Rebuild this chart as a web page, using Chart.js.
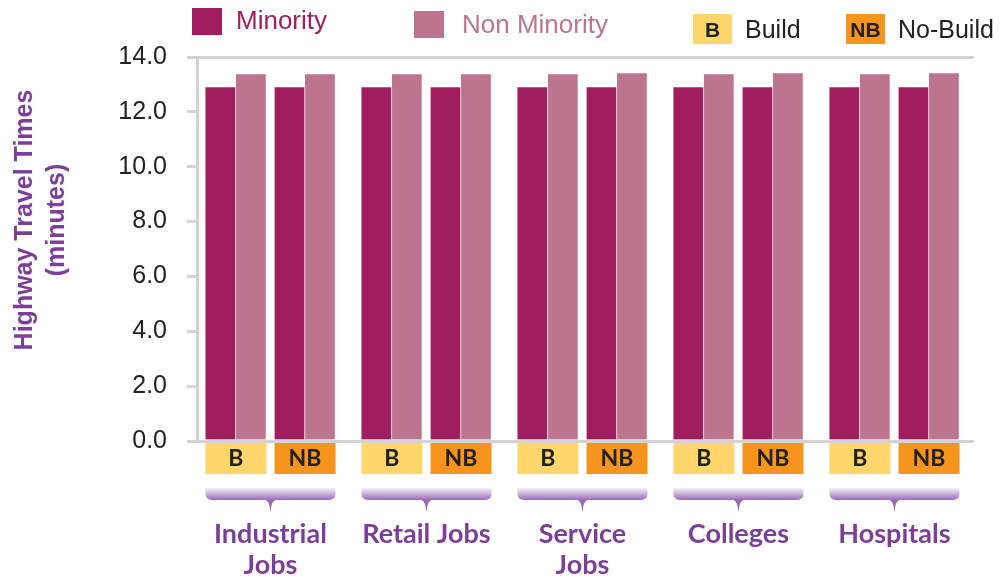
<!DOCTYPE html>
<html>
<head>
<meta charset="utf-8">
<script src="https://cdn.jsdelivr.net/npm/chart.js@4.4.1/dist/chart.umd.min.js"></script>
<style>
  html, body { margin: 0; padding: 0; background: #fff; }
</style>
</head>
<body>
<canvas id="grafico" width="1000" height="580"></canvas>
<script>
// Datos del grafico
const categorias = [['Industrial', 'Jobs'], 'Retail Jobs', ['Service', 'Jobs'], 'Colleges', 'Hospitals'];
const escenarios = ['B', 'NB'];
const nombresEscenario = ['Build', 'No-Build'];
const series = ['Minority', 'Non Minority'];
// orden: por categoria, B y luego NB
const tiemposMinority = [12.9, 12.9, 12.9, 12.9, 12.9, 12.9, 12.9, 12.9, 12.9, 12.9];
const tiemposNonMinority = [13.37, 13.37, 13.37, 13.37, 13.37, 13.41, 13.37, 13.41, 13.37, 13.41];
const ticksY = [0, 2, 4, 6, 8, 10, 12, 14];
const tituloY = ['Highway Travel Times', '(minutes)'];

const colorMinority = '#a01e5f';
const colorNonMinority = '#bd758f';
const coloresEscenario = ['#fed66b', '#f7941e'];
const morado = '#7b3f98';
const anchoBarra = 30.5;
const separacion = 0.2215; // distancia del grupo B / NB al centro de la categoria

function posicion(ci, si) {
  return ci + (si === 0 ? -separacion : separacion);
}

function puntos(valores) {
  const datos = [];
  categorias.forEach(function (cat, ci) {
    escenarios.forEach(function (esc, si) {
      datos.push({ x: posicion(ci, si), y: valores[ci * escenarios.length + si] });
    });
  });
  return datos;
}

const extras = {
  id: 'extras',
  afterDraw(chart) {
    const ctx = chart.ctx;
    const x = chart.scales.x;
    ctx.save();

    // Leyenda superior
    ctx.textAlign = 'left';
    ctx.textBaseline = 'alphabetic';
    ctx.font = '26px "Liberation Sans", Arial';
    ctx.fillStyle = colorMinority;
    ctx.fillRect(192, 8, 30, 27);
    ctx.fillText(series[0], 236, 29);
    ctx.fillStyle = colorNonMinority;
    ctx.fillRect(414, 11, 30, 27);
    ctx.fillText(series[1], 462, 33);

    const leyendaX = [693, 846];
    escenarios.forEach(function (esc, si) {
      const lx = leyendaX[si];
      ctx.fillStyle = coloresEscenario[si];
      ctx.fillRect(lx, 14, 39, 30);
      ctx.fillStyle = '#222';
      ctx.font = 'bold 21px "Liberation Sans", Arial';
      ctx.textAlign = 'center';
      ctx.fillText(esc, lx + 19.5, 37);
      ctx.font = '25px "Liberation Sans", Arial';
      ctx.textAlign = 'left';
      ctx.fillText(nombresEscenario[si], lx + 52, 38);
    });

    // Titulo del eje Y
    ctx.save();
    ctx.translate(31.5, 220);
    ctx.rotate(-Math.PI / 2);
    ctx.fillStyle = morado;
    ctx.font = 'bold 25px "Liberation Sans", Arial';
    ctx.textAlign = 'center';
    tituloY.forEach(function (linea, i) {
      ctx.fillText(linea, 0, i * 32);
    });
    ctx.restore();

    // Cajas B / NB, llaves y etiquetas de categoria
    categorias.forEach(function (cat, ci) {
      escenarios.forEach(function (esc, si) {
        const px = x.getPixelForValue(posicion(ci, si));
        ctx.fillStyle = coloresEscenario[si];
        ctx.fillRect(px - anchoBarra, 443, anchoBarra * 2, 31);
        ctx.fillStyle = '#222';
        ctx.font = 'bold 23px Lato, "Open Sans", sans-serif';
        ctx.textAlign = 'center';
        ctx.textBaseline = 'middle';
        ctx.fillText(esc, px, 459);
      });

      const x0 = x.getPixelForValue(posicion(ci, 0)) - anchoBarra;
      const x1 = x.getPixelForValue(posicion(ci, 1)) + anchoBarra;
      const cx = (x0 + x1) / 2;
      const grad = ctx.createLinearGradient(0, 488, 0, 512);
      grad.addColorStop(0, '#f4eff8');
      grad.addColorStop(0.5, '#9c6cb9');
      grad.addColorStop(1, '#8a55a8');
      ctx.fillStyle = grad;
      ctx.beginPath();
      ctx.moveTo(x0, 488);
      ctx.lineTo(x1, 488);
      ctx.lineTo(x1, 494);
      ctx.quadraticCurveTo(x1, 500, x1 - 8, 500);
      ctx.lineTo(cx + 5, 500);
      ctx.quadraticCurveTo(cx + 1, 501, cx, 512);
      ctx.quadraticCurveTo(cx - 1, 501, cx - 5, 500);
      ctx.lineTo(x0 + 8, 500);
      ctx.quadraticCurveTo(x0, 500, x0, 494);
      ctx.closePath();
      ctx.fill();

      ctx.fillStyle = morado;
      ctx.font = 'bold 27px Lato, "Open Sans", sans-serif';
      ctx.textAlign = 'center';
      ctx.textBaseline = 'alphabetic';
      const lineas = Array.isArray(cat) ? cat : [cat];
      lineas.forEach(function (linea, i) {
        ctx.fillText(linea, cx, 543 + i * 31);
      });
    });

    ctx.restore();
  }
};

const config = {
  type: 'bar',
  data: {
    datasets: [{
      label: series[0],
      data: puntos(tiemposMinority),
      backgroundColor: colorMinority,
      borderColor: '#fff',
      borderWidth: { top: 0, right: 1, bottom: 0, left: 0 },
      barThickness: anchoBarra
    },
    {
      label: series[1],
      data: puntos(tiemposNonMinority),
      backgroundColor: colorNonMinority,
      borderColor: '#fff',
      borderWidth: { top: 0, right: 1, bottom: 0, left: 0 },
      barThickness: anchoBarra
    }]
  },
  options: {
    responsive: false,
    animation: false,
    layout: {
      padding: { top: 57, bottom: 139, left: 0, right: 26 }
    },
    plugins: {
      legend: { display: false },
      tooltip: { enabled: false }
    },
    scales: {
      x: {
        type: 'linear',
        display: false,
        offset: false,
        min: -0.471,
        max: 4.51
      },
      y: {
        min: 0,
        max: 14,
        afterFit: function (scale) { scale.width = 197; },
        afterBuildTicks: function (scale) {
          scale.ticks = ticksY.map(function (v) { return { value: v }; });
        },
        ticks: {
          padding: 20,
          color: '#222',
          font: { family: '"Liberation Sans", Arial', size: 25 },
          callback: function (value) { return Number(value).toFixed(1); }
        },
        grid: {
          lineWidth: 3,
          tickLength: 10,
          tickColor: '#d3d3d3',
          color: function (c) {
            return (c.tick && (c.tick.value === 0 || c.tick.value === 14)) ? '#d3d3d3' : 'rgba(0,0,0,0)';
          }
        },
        border: { color: '#d3d3d3', width: 3 }
      }
    }
  },
  plugins: [extras]
};

new Chart(document.getElementById('grafico'), config);
</script>
</body>
</html>
